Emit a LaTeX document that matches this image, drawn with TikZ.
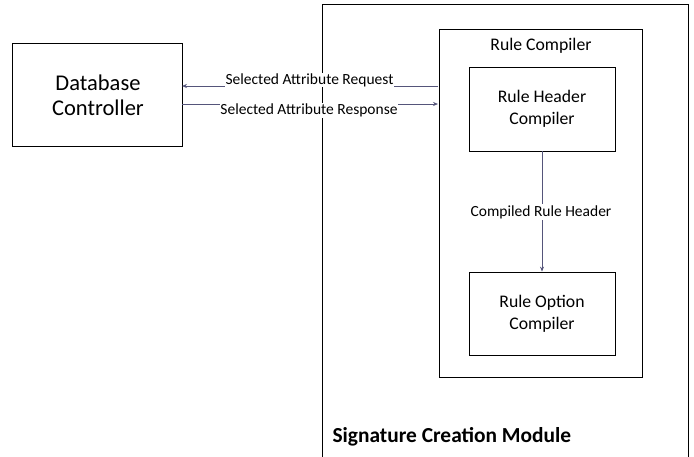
\documentclass[tikz,border=0pt]{standalone}
\usepackage{fontspec}
\setmainfont{Carlito}
\usetikzlibrary{arrows.meta}
\definecolor{conn}{HTML}{55557A}
\begin{document}
\begin{tikzpicture}[x=1pt,y=-1pt,
  box/.style={draw=black,line width=0.8pt},
  conline/.style={draw=conn,line width=0.7pt},
  arr/.style={conline,-{Stealth[length=5pt,width=4pt]}},
  lbl/.style={font=\fontsize{15.5}{18}\selectfont,fill=white,inner sep=1pt},
  boxtext/.style={font=\fontsize{17.7}{22}\selectfont,align=center}]
\useasboundingbox (0,0) rectangle (694,456);
\begin{scope}
\clip (0,0) rectangle (694,456);
\draw[box] (322,4) rectangle (688,470);
\end{scope}
\node[anchor=west,font=\fontsize{21.4}{25}\selectfont\bfseries] (scm) at (329,437) {Signature Creation Module};
\draw[box] (12.5,43) rectangle (182,146);
\node[font=\fontsize{22.5}{25}\selectfont,align=center] (db) at (98,95) {Database\\Controller};
\coordinate (dbE1) at (182,86);
\coordinate (dbE2) at (182,104);
\draw[box] (439,29) rectangle (642,377);
\node[boxtext] (rc) at (541,46) {Rule Compiler};
\coordinate (rcW1) at (438,86);
\coordinate (rcW2) at (438,104);
\node[box,minimum width=146pt,minimum height=84pt,boxtext] (rh) at (542,109) {Rule Header\\Compiler};
\node[box,minimum width=146pt,minimum height=83pt,boxtext] (ro) at (542,313.5) {Rule Option\\Compiler};
\draw[arr] (rh.south) -- (ro.north);
\node[lbl] (chl) at (541,212) {Compiled Rule Header};
\draw[arr] (rcW1) -- (dbE1);
\node[lbl,inner sep=0.5pt] (req) at (309.5,80) {Selected Attribute Request};
\draw[arr] (dbE2) -- (rcW2);
\node[lbl,inner sep=0.5pt] (resp) at (309,110.5) {Selected Attribute Response};
\end{tikzpicture}
\end{document}
